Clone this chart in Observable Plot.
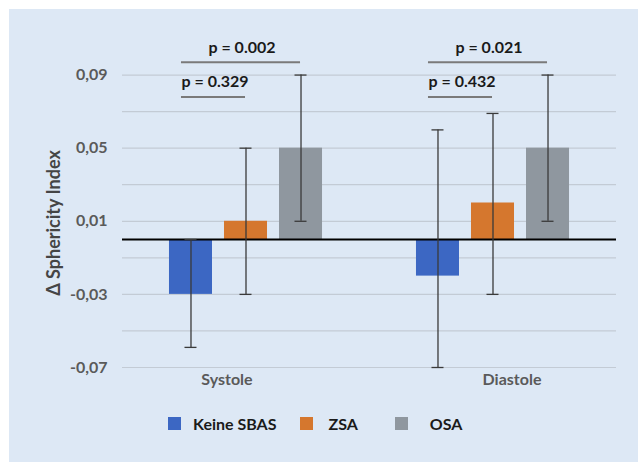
<!DOCTYPE html>
<html>
<head>
<meta charset="utf-8">
<script src="https://cdn.jsdelivr.net/npm/d3@7"></script>
<script src="https://cdn.jsdelivr.net/npm/@observablehq/plot@0.6"></script>
<style>
  html, body { margin: 0; padding: 0; background: #ffffff; width: 638px; height: 462px; overflow: hidden; }
  #panel { position: absolute; left: 9px; top: 9px; width: 629px; height: 453px; background: #dde8f5; }
  #chart { position: absolute; left: 0; top: 0; }
  #chart svg { background: transparent; overflow: visible; }
  #legend { position: absolute; top: 414px; left: 168px; display: flex; align-items: center;
            font-family: Lato, "Open Sans", sans-serif; font-weight: 700; font-size: 16px; color: #1a1a1a; }
  .item { display: flex; align-items: center; }
  .sw { width: 13px; height: 13px; margin-right: 12px; display: inline-block; }
  .item:nth-child(1) { margin-right: 24px; }
  .item:nth-child(2) { margin-right: 37px; }
  .item:nth-child(2) .sw { margin-right: 15px; }
  .item:nth-child(3) .sw { margin-right: 22px; }
</style>
</head>
<body>
<div id="panel"></div>
<div id="chart"></div>
<div id="legend"></div>
<script>
const categories = ["Systole", "Diastole"];
const series = ["Keine SBAS", "ZSA", "OSA"];
const colors = ["#3c67c3", "#d5772e", "#8f979f"];
const meanSystole = [-0.03, 0.01, 0.05];
const meanDiastole = [-0.02, 0.02, 0.05];
const lowSystole = [-0.059, -0.03, 0.01];
const lowDiastole = [-0.07, -0.03, 0.01];
const highSystole = [0.0, 0.05, 0.09];
const highDiastole = [0.06, 0.069, 0.09];
const yTickLabels = [-0.07, -0.03, 0.01, 0.05, 0.09];
const gridValues = [-0.07, -0.05, -0.03, -0.01, 0.01, 0.03, 0.05, 0.07, 0.09];
const pLabels = ["p = 0.329", "p = 0.002", "p = 0.432", "p = 0.021"];
const pCategory = ["Systole", "Systole", "Diastole", "Diastole"];
const pFrom = ["Keine SBAS", "Keine SBAS", "Keine SBAS", "Keine SBAS"];
const pTo = ["ZSA", "OSA", "ZSA", "OSA"];
const pLevel = ["low", "high", "low", "high"];
const pLineY = [0.078, 0.097, 0.078, 0.097];
const pTextY = [0.086, 0.105, 0.086, 0.105];
const yLabel = "Δ Sphericity Index";

const data = [];
series.forEach((s, i) => {
  data.push({cat: "Systole", series: s, mean: meanSystole[i], lo: lowSystole[i], hi: highSystole[i]});
  data.push({cat: "Diastole", series: s, mean: meanDiastole[i], lo: lowDiastole[i], hi: highDiastole[i]});
});
const brackets = pLabels.map((l, i) => ({label: l, cat: pCategory[i], from: pFrom[i], to: pTo[i], level: pLevel[i], y: pLineY[i], ty: pTextY[i]}));
const lowBr = brackets.filter(d => d.level === "low");
const highBr = brackets.filter(d => d.level === "high");

const font = "Lato, 'Open Sans', sans-serif";

const chart = Plot.plot({
  width: 638,
  height: 400,
  marginLeft: 122,
  marginRight: 22,
  marginTop: 38,
  marginBottom: 33,
  style: {background: "transparent", fontFamily: font},
  fx: {domain: categories, padding: 0, axis: null, round: false},
  x: {domain: series, paddingInner: 0.218, paddingOuter: 0.854, axis: null, round: false},
  y: {domain: [-0.07, 0.11], axis: null},
  color: {domain: series, range: colors},
  marks: [
    Plot.ruleY(gridValues, {stroke: "#c3cbd5", strokeWidth: 1.2}),
    Plot.axisY(yTickLabels, {
      tickSize: 0, tickPadding: 15, fontSize: 16, fontWeight: "bold", fill: "#5a5a5a",
      tickFormat: d => d3.format(".2f")(d).replace(".", ",").replace("−", "-"),
      label: null
    }),
    Plot.text([yLabel], {facetAnchor: "left", frameAnchor: "left", textAnchor: "middle", rotate: -90, dx: -68, dy: 20, text: d => d,
      fontSize: 18, fontWeight: "bold", fill: "#454545"}),
    Plot.barY(data, {fx: "cat", x: "series", y: "mean", fill: "series"}),
    Plot.ruleY([0], {stroke: "#000000", strokeWidth: 2}),
    Plot.ruleX(data, {fx: "cat", x: "series", y1: "lo", y2: "hi", stroke: "#3a3a3a", strokeWidth: 1.3}),
    Plot.tickY(data, {fx: "cat", x: "series", y: "lo", stroke: "#3a3a3a", strokeWidth: 1.3, insetLeft: 15.5, insetRight: 15.5}),
    Plot.tickY(data, {fx: "cat", x: "series", y: "hi", stroke: "#3a3a3a", strokeWidth: 1.3, insetLeft: 15.5, insetRight: 15.5}),
    Plot.ruleY(brackets, {fx: "cat", x1: "from", x2: "to", y: "y", stroke: "#7a7a7a", strokeWidth: 2, insetLeft: 12, insetRight: 22}),
    Plot.text(lowBr, {fx: "cat", x: "from", y: "ty", text: "label", textAnchor: "start", dx: -9.5, fontSize: 16, fontWeight: "bold", fill: "#1a1a1a"}),
    Plot.text(highBr, {fx: "cat", x: () => "ZSA", y: "ty", text: "label", textAnchor: "middle", dx: -4, fontSize: 16, fontWeight: "bold", fill: "#1a1a1a"}),
    Plot.text(["Systole"], {fx: d => d, frameAnchor: "bottom", dy: 17, dx: -19, text: d => d, fontSize: 16, fontWeight: "bold", fill: "#5a5a5a"}),
    Plot.text(["Diastole"], {fx: d => d, frameAnchor: "bottom", dy: 17, dx: 19, text: d => d, fontSize: 16, fontWeight: "bold", fill: "#5a5a5a"})
  ]
});
document.getElementById("chart").appendChild(chart);

const legend = document.getElementById("legend");
series.forEach((s, i) => {
  const item = document.createElement("div");
  item.className = "item";
  const sw = document.createElement("span");
  sw.className = "sw";
  sw.style.background = colors[i];
  const t = document.createElement("span");
  t.textContent = s;
  item.appendChild(sw);
  item.appendChild(t);
  legend.appendChild(item);
});
</script>
</body>
</html>
